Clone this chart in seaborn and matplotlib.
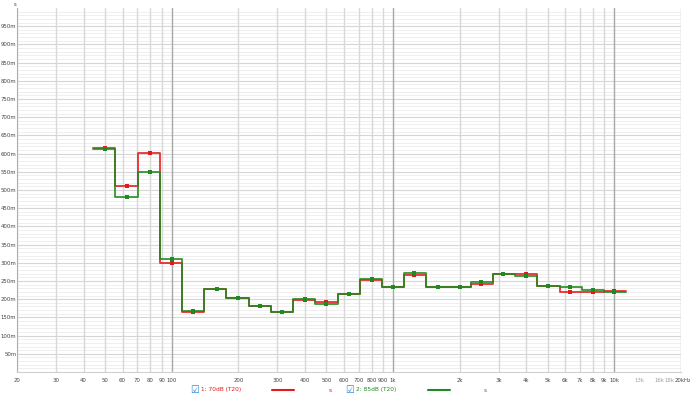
import numpy as np
import pandas as pd
import matplotlib
matplotlib.use("Agg")
import matplotlib.pyplot as plt
import matplotlib.transforms as mtransforms
import seaborn as sns
from matplotlib.lines import Line2D

# third-octave band centres (Hz)
bands = [50, 63, 80, 100, 125, 160, 200, 250, 315, 400, 500, 630, 800,
         1000, 1250, 1600, 2000, 2500, 3150, 4000, 5000, 6300, 8000, 10000]
# exact nominal band index (relative to 1 kHz) for edge computation
band_index = list(range(-13, 11))

t20_70db = [0.616, 0.512, 0.602, 0.299, 0.165, 0.227, 0.202, 0.182, 0.165,
            0.198, 0.191, 0.213, 0.253, 0.233, 0.266, 0.233, 0.233, 0.242,
            0.269, 0.268, 0.235, 0.221, 0.220, 0.223]
t20_85db = [0.613, 0.480, 0.549, 0.310, 0.167, 0.227, 0.202, 0.182, 0.165,
            0.201, 0.188, 0.213, 0.256, 0.233, 0.271, 0.233, 0.233, 0.247,
            0.269, 0.264, 0.235, 0.233, 0.226, 0.220]

series_names = ["1: 70dB (T20)", "2: 85dB (T20)"]
series_colors = ["#e4191b", "#1f8a1f"]

xtick_vals = [20, 30, 40, 50, 60, 70, 80, 90, 100, 200, 300, 400, 500, 600,
              700, 800, 900, 1000, 2000, 3000, 4000, 5000, 6000, 7000, 8000,
              9000, 10000, 13000, 16000, 18000, 20000]
xtick_labels = ["20", "30", "40", "50", "60", "70", "80", "90", "100", "200",
                "300", "400", "500", "600", "700", "800", "900", "1k", "2k",
                "3k", "4k", "5k", "6k", "7k", "8k", "9k", "10k", "13k", "16k",
                "18k", "20kHz"]
ytick_vals = [0.05 * i for i in range(1, 20)]
ytick_labels = [f"{int(round(v * 1000))}m" for v in ytick_vals]

sns.set_theme(style="white")
plt.rcParams["font.family"] = ["DejaVu Sans"]

W, H = 690, 395
fig = plt.figure(figsize=(W / 100, H / 100), dpi=100)
L, R, T, B = 17, 681, 8, 372
ax = fig.add_axes([L / W, (H - B) / H, (R - L) / W, (B - T) / H])

ax.set_xscale("log")
ax.set_xlim(20, 20000)
ax.set_ylim(0, 1.0)

# grid
for v in np.arange(0.01, 1.0, 0.01):
    major = abs(v / 0.05 - round(v / 0.05)) < 1e-6
    ax.axhline(v, color="#d6d6d6" if major else "#ededed", lw=0.8 if major else 0.6, zorder=0)
for dec in [10, 100, 1000, 10000]:
    for m in range(1, 10):
        f = dec * m
        if f < 20 or f > 20000:
            continue
        if m == 1:
            ax.axvline(f, color="#a8a8a8", lw=1.0, zorder=0)
        else:
            ax.axvline(f, color="#e6e6e6" if f > 10000 else "#d8d8d8", lw=1.0, zorder=0)
ax.axvline(20000, color="#d8d8d8", lw=1.0, zorder=0)

# build step data
edges_lo = [1000 * 2 ** ((n - 0.5) / 3) for n in band_index]
edges_hi = [1000 * 2 ** ((n + 0.5) / 3) for n in band_index]
for vals, name, col, z in [(t20_70db, series_names[0], series_colors[0], 3),
                           (t20_85db, series_names[1], series_colors[1], 4)]:
    xs = edges_lo + [edges_hi[-1]]
    ys = list(vals) + [vals[-1]]
    df = pd.DataFrame({"f": xs, "v": ys})
    sns.lineplot(data=df, x="f", y="v", drawstyle="steps-post", color=col,
                 lw=1.3, alpha=0.9, ax=ax, zorder=z, estimator=None, sort=False)
    dm = pd.DataFrame({"f": bands, "v": vals})
    sns.scatterplot(data=dm, x="f", y="v", color=col, marker="s", s=7,
                    linewidth=0, ax=ax, zorder=z + 1)

ax.set_xlabel("")
ax.set_ylabel("")
ax.set_xticks(xtick_vals)
ax.set_xticklabels(xtick_labels)
ax.xaxis.set_minor_locator(matplotlib.ticker.NullLocator())
ax.set_yticks(ytick_vals)
ax.set_yticklabels(ytick_labels)
ax.tick_params(axis="both", length=0, labelsize=3.9, colors="#444444")
ax.tick_params(axis="x", pad=4)
ax.tick_params(axis="y", pad=0.5)
for lab, v in zip(ax.get_xticklabels(), xtick_vals):
    if 10000 < v < 20000:
        lab.set_color("#a0a0a0")
    if v == 18000:
        lab.set_transform(lab.get_transform() + mtransforms.ScaledTranslation(-1.2 / 100, 0, fig.dpi_scale_trans))
    if v == 20000:
        lab.set_transform(lab.get_transform() + mtransforms.ScaledTranslation(1.8 / 100, 0, fig.dpi_scale_trans))
for s in ["top", "right"]:
    ax.spines[s].set_visible(False)
ax.spines["left"].set_color("#b0b0b0")
ax.spines["left"].set_linewidth(0.8)
ax.spines["bottom"].set_color("#d0d0d0")
ax.spines["bottom"].set_linewidth(0.8)

fig.text(15 / W, 1 - 4 / H, "s", fontsize=3.9, color="#444444", ha="center", va="center")

# legend row
ly = 1 - 390 / H
def legend_item(x_box, text, color, x_line0, x_line1, x_unit):
    fig.text(x_box / W, ly, "\u2611", fontsize=7, color="#2f86d8", ha="center", va="center")
    fig.text((x_box + 6) / W, ly, text, fontsize=4.2, color=color, ha="left", va="center")
    fig.add_artist(Line2D([x_line0 / W, x_line1 / W], [ly, ly], color=color, lw=1.5))
    fig.text(x_unit / W, ly, "s", fontsize=4.2, color=color, ha="center", va="center")

legend_item(195, series_names[0], series_colors[0], 272, 294, 330)
legend_item(350, series_names[1], series_colors[1], 428, 450, 485)

fig.savefig("out.png", dpi=100, facecolor="white")
